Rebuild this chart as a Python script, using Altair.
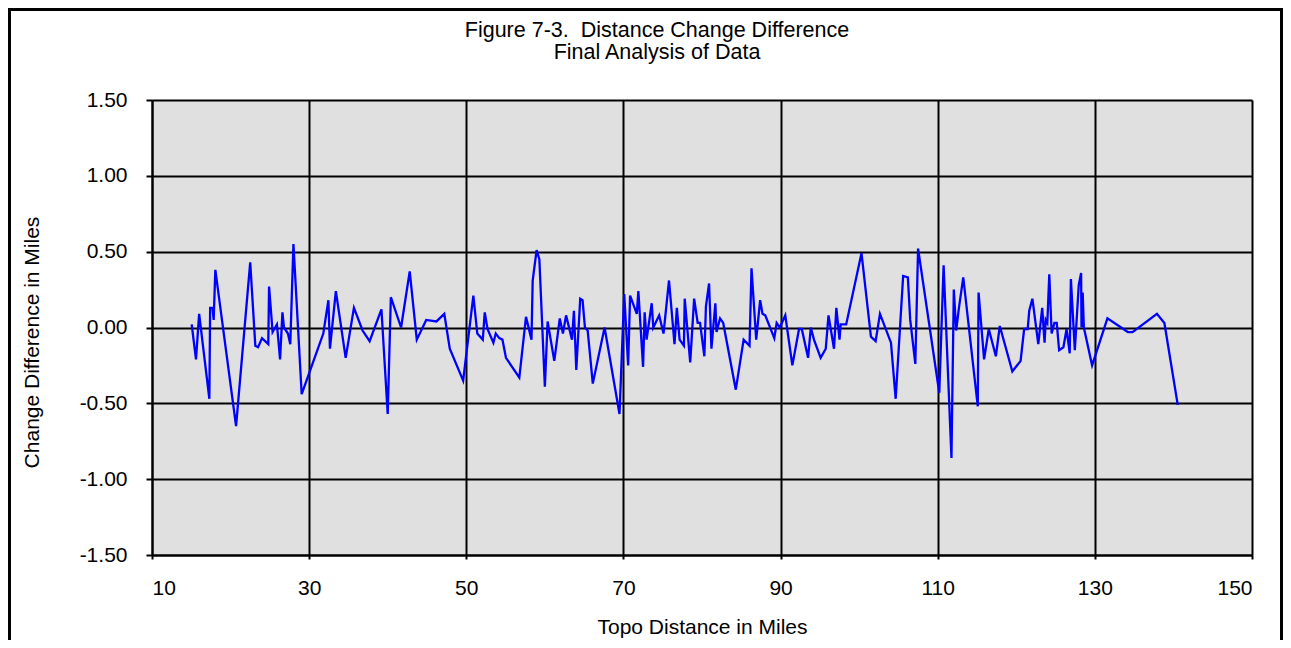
import altair as alt
import pandas as pd

topo_miles = [
    15.05, 15.6, 16.0, 17.3, 17.4, 17.7, 17.85, 18.06, 20.7, 22.5,
    23.15, 23.5, 24.0, 24.8, 24.9, 25.35, 25.9, 26.3, 26.6, 26.8,
    27.3, 27.6, 28.0, 29.05, 31.8, 32.45, 32.65, 33.4, 34.65, 35.7,
    36.8, 37.7, 39.2, 40.0, 40.4, 41.7, 42.8, 43.7, 44.9, 46.2,
    47.2, 47.9, 49.6, 50.9, 51.4, 52.1, 52.35, 52.7, 53.45, 53.75,
    54.2, 54.6, 55.05, 56.75, 57.6, 58.3, 58.45, 58.95, 59.3, 60.0,
    60.35, 61.2, 61.9, 62.3, 62.7, 63.45, 63.7, 64.0, 64.5, 64.8,
    65.1, 65.45, 66.1, 67.6, 69.5, 70.1, 70.6, 70.85, 71.7, 71.9,
    72.5, 72.7, 72.95, 73.6, 73.8, 74.55, 75.1, 75.8, 76.5, 76.8,
    77.15, 77.7, 77.8, 78.5, 79.0, 79.45, 79.75, 80.3, 80.5, 80.9,
    81.2, 81.7, 81.85, 82.3, 82.7, 84.3, 85.3, 86.05, 86.3, 86.9,
    87.4, 87.7, 88.05, 89.2, 89.5, 89.9, 90.6, 91.5, 92.35, 92.7,
    93.5, 93.85, 94.25, 95.1, 95.75, 96.1, 96.8, 97.1, 97.5, 97.65,
    98.35, 100.3, 101.5, 102.1, 102.65, 104.05, 104.65, 105.6, 106.2, 106.5,
    107.15, 107.5, 110.2, 110.75, 111.75, 112.05, 112.35, 112.7, 113.25, 115.1,
    115.2, 115.9, 116.5, 117.4, 117.9, 119.5, 120.55, 121.0, 121.45, 121.65,
    122.05, 122.8, 123.3, 123.6, 123.75, 123.95, 124.2, 124.5, 124.85, 125.15,
    125.45, 126.0, 126.4, 126.8, 126.95, 127.45, 127.95, 128.25, 128.3, 128.45,
    128.6, 129.65, 131.6, 134.2, 134.8, 137.9, 138.85, 140.55,
]

change_diff = [
    0.02, -0.21, 0.09, -0.47, 0.13, 0.13, 0.05, 0.38, -0.65, 0.43,
    -0.12, -0.13, -0.07, -0.11, 0.27, -0.03, 0.02, -0.21, 0.10, 0.0,
    -0.04, -0.11, 0.55, -0.44, -0.04, 0.18, -0.14, 0.24, -0.20, 0.13,
    -0.02, -0.09, 0.12, -0.57, 0.20, 0.0, 0.37, -0.08, 0.05, 0.04,
    0.09, -0.14, -0.35, 0.21, -0.04, -0.08, 0.10, -0.01, -0.10, -0.04,
    -0.07, -0.08, -0.20, -0.33, 0.07, -0.08, 0.31, 0.51, 0.45, -0.39,
    0.04, -0.22, 0.06, -0.04, 0.08, -0.08, 0.11, -0.28, 0.19, 0.18,
    0.0, -0.02, -0.37, 0.0, -0.57, 0.22, -0.25, 0.21, 0.09, 0.24,
    -0.26, 0.10, -0.08, 0.16, 0.0, 0.08, -0.04, 0.31, -0.11, 0.13,
    -0.08, -0.12, 0.19, -0.23, 0.19, 0.03, 0.03, -0.19, 0.14, 0.29,
    -0.14, 0.16, -0.03, 0.06, 0.03, -0.41, -0.08, -0.12, 0.39, -0.08,
    0.18, 0.09, 0.08, -0.07, 0.03, 0.0, 0.08, -0.25, -0.01, -0.01,
    -0.20, 0.0, -0.08, -0.20, -0.14, 0.08, -0.14, 0.13, -0.08, 0.02,
    0.02, 0.49, -0.06, -0.09, 0.09, -0.10, -0.47, 0.34, 0.33, 0.05,
    -0.24, 0.52, -0.43, 0.41, -0.86, 0.25, -0.02, 0.13, 0.33, -0.52,
    0.23, -0.21, -0.01, -0.19, 0.01, -0.29, -0.22, -0.01, -0.01, 0.11,
    0.19, -0.11, 0.13, -0.10, 0.05, 0.03, 0.35, -0.04, 0.03, 0.03,
    -0.15, -0.13, -0.01, -0.17, 0.32, -0.15, 0.28, 0.36, 0.0, 0.23,
    0.0, -0.25, 0.06, -0.03, -0.03, 0.09, 0.03, -0.51,
]

x_ticks = [10, 30, 50, 70, 90, 110, 130, 150]
y_ticks = [-1.5, -1.0, -0.5, 0.0, 0.5, 1.0, 1.5]

title_lines = ["Figure 7-3.\u00a0 Distance Change Difference", "Final Analysis of Data"]
x_title = "Topo Distance in Miles"
y_title = "Change Difference in Miles"

df = pd.DataFrame({"topo": topo_miles, "diff": change_diff, "idx": list(range(len(topo_miles)))})

FONT = "Liberation Sans"

line = alt.Chart(df).mark_line(color="#0000FF", strokeWidth=2.3).encode(
    x=alt.X(
        "topo:Q",
        scale=alt.Scale(domain=[10, 150], nice=False, zero=False),
        axis=alt.Axis(
            values=x_ticks, format="d", title=x_title,
            grid=True, gridColor="black", gridWidth=2, gridOpacity=1,
            domainColor="black", domainWidth=2,
            tickColor="black", tickWidth=2, tickSize=4,
            labelFont=FONT, labelFontSize=21, labelColor="black", labelPadding=18,
            titleFont=FONT, titleFontSize=21, titleFontWeight="normal", titleColor="black",
            titleBaseline="alphabetic", titleY=78,
        ),
    ),
    y=alt.Y(
        "diff:Q",
        scale=alt.Scale(domain=[-1.5, 1.5], nice=False, zero=False),
        axis=alt.Axis(
            values=y_ticks,
            labelExpr="replace(format(datum.value, '.2f'), '\u2212', '-')",
            title=y_title,
            grid=True, gridColor="black", gridWidth=2, gridOpacity=1,
            domainColor="black", domainWidth=2,
            tickColor="black", tickWidth=2, tickSize=6,
            labelFont=FONT, labelFontSize=21, labelColor="black", labelPadding=19,
            titleFont=FONT, titleFontSize=21, titleFontWeight="normal", titleColor="black",
            titleBaseline="alphabetic", titleX=-114, titleY=242, titleAngle=270,
        ),
    ),
    order="idx:Q",
)

frame = alt.Chart(df).mark_rect(fill=None, stroke="black", strokeWidth=2.5).encode(
    x=alt.value(-143), x2=alt.value(1130), y=alt.value(-91), y2=alt.value(560)
)

chart = alt.layer(line, frame).properties(
    width=1100,
    height=455,
    autosize=alt.AutoSizeParams(type="none"),
    padding={"left": 144, "top": 92, "right": 31, "bottom": 85},
    title=alt.Title(
        text=title_lines, font=FONT, fontSize=21.5, fontWeight="normal", color="black",
        anchor="middle", dx=-45, lineHeight=22.5, offset=-78, baseline="bottom",
    ),
).configure(
    background="white",
    view=alt.ViewConfig(fill="#E0E0E0", stroke=None),
)

chart.save("out.html", embed_options={"renderer": "svg", "actions": False})
